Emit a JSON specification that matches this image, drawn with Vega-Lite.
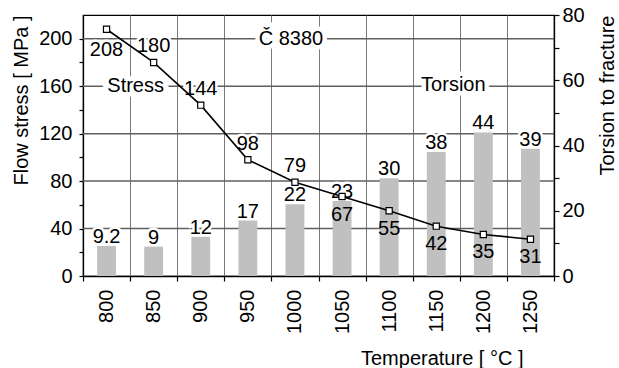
{
  "$schema": "https://vega.github.io/schema/vega-lite/v6.json",
  "width": 471,
  "height": 261,
  "autosize": "none",
  "padding": {"left": 83, "top": 15, "right": 65, "bottom": 92},
  "background": "white",
  "config": {
    "font": "Liberation Sans",
    "view": {"stroke": "black", "strokeWidth": 1.2},
    "axis": {
      "labelFont": "Liberation Sans",
      "titleFont": "Liberation Sans",
      "labelFontSize": 20,
      "titleFontSize": 20,
      "titleFontWeight": "normal",
      "labelColor": "black",
      "titleColor": "black",
      "domainColor": "black",
      "domainWidth": 1.3,
      "tickColor": "black",
      "tickWidth": 1.2,
      "gridColor": "#7a7a7a",
      "gridWidth": 1
    },
    "axisX": {
      "orient": "bottom",
      "titleAlign": "right",
      "titleAnchor": "start",
      "titleX": 440,
      "titleY": 88,
      "titleBaseline": "alphabetic",
      "labelAngle": -90,
      "labelAlign": "right",
      "labelBaseline": "middle",
      "labelPadding": 8,
      "tickSize": 5,
      "tickBand": "extent",
      "grid": true,
      "domain": true
    },
    "text": {"font": "Liberation Sans", "fontSize": 20}
  },
  "datasets": {
    "main": [
      {"T": "800", "stress": 208, "torsion": 9.2},
      {"T": "850", "stress": 180, "torsion": 9},
      {"T": "900", "stress": 144, "torsion": 12},
      {"T": "950", "stress": 98, "torsion": 17},
      {"T": "1000", "stress": 79, "torsion": 22},
      {"T": "1050", "stress": 67, "torsion": 23},
      {"T": "1100", "stress": 55, "torsion": 30},
      {"T": "1150", "stress": 42, "torsion": 38},
      {"T": "1200", "stress": 35, "torsion": 44},
      {"T": "1250", "stress": 31, "torsion": 39}
    ],
    "notes": [
      {"label": "Stress", "T": "850", "stress": 160},
      {"label": "Č 8380", "T": "1000", "stress": 200},
      {"label": "Torsion", "T": "1200", "stress": 161}
    ],
    "grid": [
      {"stress": 40},
      {"stress": 80},
      {"stress": 120},
      {"stress": 160},
      {"stress": 200}
    ]
  },
  "data": {"name": "main"},
  "layer": [
    {
      "encoding": {
        "y": {
          "field": "stress",
          "type": "quantitative",
          "scale": {"domain": [0, 220], "nice": false},
          "axis": {
            "orient": "left",
            "title": "Flow stress [ MPa ]",
            "titleAnchor": "end",
            "titlePadding": 7,
            "values": [0, 20, 40, 60, 80, 100, 120, 140, 160, 180, 200],
            "labelExpr": "datum.value % 40 === 0 ? datum.label : ''",
            "tickSize": 4,
            "labelPadding": 7,
            "grid": false
          }
        }
      },
      "layer": [
        {
          "data": {"name": "grid"},
          "mark": {"type": "rule", "stroke": "#5f5f5f", "strokeWidth": 1.5},
          "encoding": {}
        },
        {
          "encoding": {
            "x": {
              "field": "T",
              "type": "ordinal",
              "sort": null,
              "scale": {"domain": ["800", "850", "900", "950", "1000", "1050", "1100", "1150", "1200", "1250"], "paddingInner": 0, "paddingOuter": 0},
              "axis": {"title": "Temperature [ °C ]"}
            }
          },
          "layer": [
            {
              "transform": [{"filter": "datum.T === '850' || datum.T === '900' || datum.T === '950' || datum.T === '1000'"}],
              "mark": {"type": "text", "baseline": "alphabetic", "dy": -10, "color": "white", "stroke": "white", "strokeWidth": 5},
              "encoding": {"text": {"field": "stress", "type": "quantitative"}}
            },
            {
              "transform": [{"filter": "datum.T === '800'"}],
              "mark": {"type": "text", "baseline": "alphabetic", "dy": 27, "color": "white", "stroke": "white", "strokeWidth": 5},
              "encoding": {"text": {"field": "stress", "type": "quantitative"}}
            },
            {
              "data": {"name": "notes"},
              "transform": [{"filter": "datum.label === 'Stress'"}],
              "mark": {"type": "text", "baseline": "middle", "dx": -18, "color": "white", "stroke": "white", "strokeWidth": 9},
              "encoding": {"text": {"field": "label"}}
            },
            {
              "data": {"name": "notes"},
              "transform": [{"filter": "datum.label === 'Č 8380'"}],
              "mark": {"type": "text", "baseline": "middle", "dx": -4, "color": "white", "stroke": "white", "strokeWidth": 9},
              "encoding": {"text": {"field": "label"}}
            },
            {
              "data": {"name": "notes"},
              "transform": [{"filter": "datum.label === 'Torsion'"}],
              "mark": {"type": "text", "baseline": "middle", "dx": -30, "color": "white", "stroke": "white", "strokeWidth": 9},
              "encoding": {"text": {"field": "label"}}
            }
          ]
        }
      ]
    },
    {
      "encoding": {
        "x": {
          "field": "T",
          "type": "ordinal",
          "sort": null,
          "scale": {"domain": ["800", "850", "900", "950", "1000", "1050", "1100", "1150", "1200", "1250"], "paddingInner": 0, "paddingOuter": 0},
          "axis": {"title": "Temperature [ °C ]"}
        },
        "y": {
          "field": "torsion",
          "type": "quantitative",
          "scale": {"domain": [0, 80], "nice": false},
          "axis": {
            "orient": "right",
            "title": "Torsion to fracture",
            "titleAngle": 270,
            "titleAnchor": "end",
            "titleAlign": "right",
            "titleBaseline": "top",
            "titlePadding": 13,
            "values": [0, 10, 20, 30, 40, 50, 60, 70, 80],
            "labelExpr": "datum.value % 20 === 0 ? datum.label : ''",
            "tickSize": 5,
            "labelPadding": 3,
            "grid": false
          }
        }
      },
      "layer": [
        {
          "mark": {"type": "text", "baseline": "alphabetic", "dy": -3, "color": "white", "stroke": "white", "strokeWidth": 5},
          "encoding": {"text": {"field": "torsion", "type": "quantitative"}}
        },
        {
          "mark": {"type": "bar", "color": "#c0c0c0", "width": {"band": 0.4}},
          "encoding": {}
        },
        {
          "mark": {"type": "text", "baseline": "alphabetic", "dy": -3, "color": "black"},
          "encoding": {"text": {"field": "torsion", "type": "quantitative"}}
        }
      ]
    },
    {
      "encoding": {
        "x": {
          "field": "T",
          "type": "ordinal",
          "sort": null,
          "scale": {"domain": ["800", "850", "900", "950", "1000", "1050", "1100", "1150", "1200", "1250"], "paddingInner": 0, "paddingOuter": 0},
          "axis": {"title": "Temperature [ °C ]"}
        },
        "y": {
          "field": "stress",
          "type": "quantitative",
          "scale": {"domain": [0, 220], "nice": false},
          "axis": null
        }
      },
      "layer": [
        {
          "mark": {"type": "line", "color": "black", "strokeWidth": 1.6},
          "encoding": {}
        },
        {
          "mark": {"type": "point", "shape": "square", "filled": true, "fill": "white", "stroke": "black", "strokeWidth": 1.2, "size": 38, "opacity": 1},
          "encoding": {}
        },
        {
          "transform": [{"filter": "datum.T === '850' || datum.T === '900' || datum.T === '950' || datum.T === '1000'"}],
          "mark": {"type": "text", "baseline": "alphabetic", "dy": -10, "color": "black"},
          "encoding": {"text": {"field": "stress", "type": "quantitative"}}
        },
        {
          "transform": [{"filter": "datum.T === '800'"}],
          "mark": {"type": "text", "baseline": "alphabetic", "dy": 27, "color": "black"},
          "encoding": {"text": {"field": "stress", "type": "quantitative"}}
        },
        {
          "transform": [{"filter": "datum.T !== '800' && datum.T !== '850' && datum.T !== '900' && datum.T !== '950' && datum.T !== '1000'"}],
          "mark": {"type": "text", "baseline": "alphabetic", "dy": 24, "color": "black"},
          "encoding": {"text": {"field": "stress", "type": "quantitative"}}
        },
        {
          "data": {"name": "notes"},
          "transform": [{"filter": "datum.label === 'Stress'"}],
          "mark": {"type": "text", "baseline": "middle", "dx": -18, "color": "black"},
          "encoding": {"text": {"field": "label"}}
        },
        {
          "data": {"name": "notes"},
          "transform": [{"filter": "datum.label === 'Č 8380'"}],
          "mark": {"type": "text", "baseline": "middle", "dx": -4, "color": "black"},
          "encoding": {"text": {"field": "label"}}
        },
        {
          "data": {"name": "notes"},
          "transform": [{"filter": "datum.label === 'Torsion'"}],
          "mark": {"type": "text", "baseline": "middle", "dx": -30, "color": "black"},
          "encoding": {"text": {"field": "label"}}
        }
      ]
    }
  ],
  "resolve": {"scale": {"y": "independent"}}
}
